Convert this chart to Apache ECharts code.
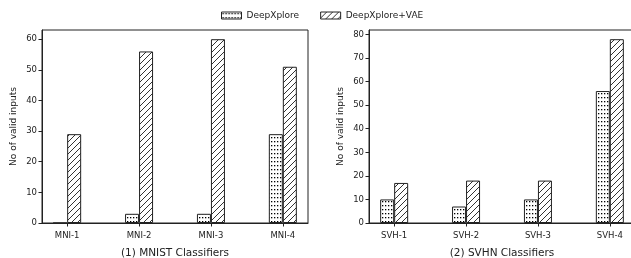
<!doctype html>
<html>
<head>
<meta charset="utf-8">
<title>No of valid inputs</title>
<script src="https://cdn.jsdelivr.net/npm/echarts@6/dist/echarts.min.js"></script>
<style>
  html, body { margin: 0; padding: 0; background: #fff; }
  #container { width: 631px; height: 258px; }
</style>
</head>
<body>
<div id="container"></div>
<script>
// data
var mnistNames = ['MNI-1', 'MNI-2', 'MNI-3', 'MNI-4'];
var svhnNames = ['SVH-1', 'SVH-2', 'SVH-3', 'SVH-4'];
var mnistDeep = [0, 3, 3, 29];
var mnistVae = [29, 56, 60, 51];
var svhnDeep = [10, 7, 10, 56];
var svhnVae = [17, 18, 18, 78];
var mnistTicks = [0, 10, 20, 30, 40, 50, 60];
var svhnTicks = [0, 10, 20, 30, 40, 50, 60, 70, 80];
var legendNames = ['DeepXplore', 'DeepXplore+VAE'];
var titles = ['(1) MNIST Classifiers', '(2) SVHN Classifiers'];

var ink = '#222';
var font = 'DejaVu Sans';

// hatch fills
function makeDots() {
  var c = document.createElement('canvas');
  c.width = 3; c.height = 4;
  var g = c.getContext('2d');
  g.fillStyle = '#fff'; g.fillRect(0, 0, 3, 4);
  g.fillStyle = '#000'; g.fillRect(1, 1, 1.3, 1.3);
  return c;
}
function makeHatch() {
  var s = 6;
  var c = document.createElement('canvas');
  c.width = s; c.height = s;
  var g = c.getContext('2d');
  g.fillStyle = '#fff'; g.fillRect(0, 0, s, s);
  g.strokeStyle = '#333'; g.lineWidth = 1;
  g.beginPath();
  g.moveTo(-1, s + 1); g.lineTo(s + 1, -1);
  g.moveTo(-1, 1); g.lineTo(1, -1);
  g.moveTo(s - 1, s + 1); g.lineTo(s + 1, s - 1);
  g.stroke();
  return c;
}
var dotFill = { image: makeDots(), repeat: 'repeat' };
var hatchFill = { image: makeHatch(), repeat: 'repeat' };

function pairs(arr) {
  return arr.map(function (v, i) { return [i, v]; });
}
var catIdx = mnistNames.map(function (n, i) { return i; });

function xAx(gi, names, title) {
  return {
    type: 'value', gridIndex: gi, min: -0.35, max: 3.35,
    axisLine: { show: true, onZero: false, lineStyle: { color: ink, width: 1 } },
    axisTick: { show: true, length: 3.5, customValues: catIdx, lineStyle: { color: ink } },
    axisLabel: {
      customValues: catIdx,
      formatter: function (v) { return names[Math.round(v)]; },
      fontSize: 8.5, color: ink, margin: 8, fontFamily: font
    },
    splitLine: { show: false },
    name: title, nameLocation: 'middle', nameGap: 25,
    nameTextStyle: { fontSize: 10.5, color: ink, fontFamily: font }
  };
}
function yAx(gi, max, ticks) {
  return {
    type: 'value', gridIndex: gi, min: 0, max: max,
    axisLine: { show: true, onZero: false, lineStyle: { color: ink, width: 1 } },
    axisTick: { show: true, length: 3.5, customValues: ticks, lineStyle: { color: ink } },
    axisLabel: { customValues: ticks, fontSize: 8.5, color: ink, margin: 5, fontFamily: font },
    splitLine: { show: false },
    name: 'No of valid inputs', nameLocation: 'middle', nameGap: 24,
    nameTextStyle: { fontSize: 9, color: ink, fontFamily: font }
  };
}
function bar(name, fill, gi, vals) {
  return {
    name: name, type: 'bar', xAxisIndex: gi, yAxisIndex: gi,
    barWidth: 14, barGap: '0%',
    itemStyle: { color: fill, borderColor: ink, borderWidth: 1 },
    emphasis: { disabled: true },
    data: pairs(vals)
  };
}

var option = {
  animation: false,
  backgroundColor: '#fff',
  legend: {
    data: legendNames, left: 216, top: 6, icon: 'rect',
    itemWidth: 20, itemHeight: 7, itemGap: 21,
    itemStyle: { borderColor: ink, borderWidth: 1 },
    textStyle: { fontSize: 9, color: ink, fontFamily: font }
  },
  grid: [
    { left: 42, top: 30, width: 266, height: 193, show: true, borderColor: ink, borderWidth: 1,
      containLabel: false, outerBoundsMode: 'none' },
    { left: 369, top: 30, width: 266, height: 193, show: true, borderColor: ink, borderWidth: 1,
      containLabel: false, outerBoundsMode: 'none' }
  ],
  xAxis: [xAx(0, mnistNames, titles[0]), xAx(1, svhnNames, titles[1])],
  yAxis: [yAx(0, 63, mnistTicks), yAx(1, 81.9, svhnTicks)],
  series: [
    bar(legendNames[0], dotFill, 0, mnistDeep),
    bar(legendNames[1], hatchFill, 0, mnistVae),
    bar(legendNames[0], dotFill, 1, svhnDeep),
    bar(legendNames[1], hatchFill, 1, svhnVae)
  ]
};

var myChart = echarts.init(document.getElementById('container'));
myChart.setOption(option);
</script>
</body>
</html>
